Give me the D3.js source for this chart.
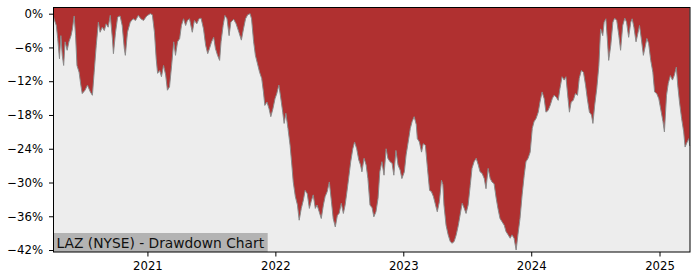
<!DOCTYPE html>
<html>
<head>
<meta charset="utf-8">
<script src="https://cdn.jsdelivr.net/npm/d3@7"></script>
<style>
  body { margin: 0; background: #fff; }
  svg { display: block; }
  .tick text { font-family: "DejaVu Sans", sans-serif; font-size: 11.7px; fill: #000; }
</style>
</head>
<body>
<svg id="chart" width="700" height="280"></svg>
<script>
// drawdown data
var dates = [
  "2020-04-08","2020-04-11","2020-04-16","2020-04-20","2020-04-25","2020-04-29","2020-05-03","2020-05-07",
  "2020-05-11","2020-05-17","2020-05-22","2020-05-28","2020-06-01","2020-06-06","2020-06-10","2020-06-14",
  "2020-06-20","2020-06-25","2020-06-29","2020-07-07","2020-07-14","2020-07-22","2020-07-28","2020-08-02",
  "2020-08-08","2020-08-14","2020-08-19","2020-08-25","2020-08-31","2020-09-05","2020-09-11","2020-09-17",
  "2020-09-23","2020-09-26","2020-10-02","2020-10-08","2020-10-15","2020-10-21","2020-10-27","2020-10-30",
  "2020-11-05","2020-11-13","2020-11-21","2020-11-28","2020-12-06","2020-12-13","2020-12-21","2020-12-30",
  "2021-01-09","2021-01-15","2021-01-21","2021-01-26","2021-01-30","2021-02-05","2021-02-10","2021-02-16",
  "2021-02-22","2021-02-27","2021-03-05","2021-03-11","2021-03-17","2021-03-22","2021-03-28","2021-04-03",
  "2021-04-08","2021-04-14","2021-04-20","2021-04-25","2021-05-01","2021-05-09","2021-05-15","2021-05-22",
  "2021-05-28","2021-06-03","2021-06-10","2021-06-16","2021-06-22","2021-06-27","2021-07-03","2021-07-09",
  "2021-07-14","2021-07-20","2021-07-26","2021-07-30","2021-08-05","2021-08-10","2021-08-16","2021-08-22",
  "2021-08-27","2021-09-04","2021-09-11","2021-09-19","2021-09-26","2021-10-02","2021-10-08","2021-10-14",
  "2021-10-21","2021-10-25","2021-10-31","2021-11-05","2021-11-11","2021-11-17","2021-11-23","2021-11-28",
  "2021-12-02","2021-12-08","2021-12-14","2021-12-19","2021-12-25","2021-12-31",
  "2022-01-05","2022-01-11","2022-01-16","2022-01-22","2022-01-26","2022-01-31","2022-02-06","2022-02-12",
  "2022-02-17","2022-02-21","2022-02-27","2022-03-05","2022-03-10","2022-03-16","2022-03-22","2022-03-27",
  "2022-04-02","2022-04-08","2022-04-13","2022-04-19","2022-04-25","2022-04-30","2022-05-06","2022-05-12",
  "2022-05-18","2022-05-23","2022-05-29","2022-06-04","2022-06-10","2022-06-15","2022-06-21","2022-06-27",
  "2022-07-02","2022-07-08","2022-07-14","2022-07-19","2022-07-23","2022-07-29","2022-08-04","2022-08-10",
  "2022-08-15","2022-08-21","2022-08-27","2022-09-01","2022-09-05","2022-09-11","2022-09-17","2022-09-22",
  "2022-09-28","2022-10-04","2022-10-09","2022-10-15","2022-10-21","2022-10-26","2022-11-01","2022-11-07",
  "2022-11-13","2022-11-18","2022-11-24","2022-11-30","2022-12-05","2022-12-11","2022-12-17","2022-12-23",
  "2022-12-28",
  "2023-01-04","2023-01-09","2023-01-15","2023-01-21","2023-01-26","2023-02-01","2023-02-07","2023-02-10",
  "2023-02-16","2023-02-22","2023-02-27","2023-03-05","2023-03-11","2023-03-17","2023-03-22","2023-03-28",
  "2023-04-03","2023-04-08","2023-04-14","2023-04-20","2023-04-24","2023-04-27","2023-05-03","2023-05-09",
  "2023-05-15","2023-05-20","2023-05-26","2023-06-01","2023-06-07","2023-06-12","2023-06-18","2023-06-24",
  "2023-06-29","2023-07-05","2023-07-11","2023-07-16","2023-07-22","2023-07-28","2023-08-03","2023-08-08",
  "2023-08-14","2023-08-20","2023-08-25","2023-08-31","2023-09-06","2023-09-11","2023-09-17","2023-09-23",
  "2023-09-28","2023-10-04","2023-10-10","2023-10-16","2023-10-21","2023-10-27","2023-11-02","2023-11-07",
  "2023-11-13","2023-11-19","2023-11-24","2023-11-30","2023-12-06","2023-12-12","2023-12-17","2023-12-23",
  "2023-12-29",
  "2024-01-04","2024-01-09","2024-01-15","2024-01-21","2024-01-26","2024-02-01","2024-02-07","2024-02-12",
  "2024-02-18","2024-02-24","2024-03-01","2024-03-06","2024-03-12","2024-03-18","2024-03-23","2024-03-29",
  "2024-04-04","2024-04-09","2024-04-15","2024-04-19","2024-04-24","2024-04-30","2024-05-06","2024-05-12",
  "2024-05-17","2024-05-23","2024-05-29","2024-06-04","2024-06-09","2024-06-15","2024-06-21","2024-06-25",
  "2024-06-30","2024-07-06","2024-07-12","2024-07-17","2024-07-23","2024-07-27","2024-08-01","2024-08-05",
  "2024-08-09","2024-08-15","2024-08-21","2024-08-26","2024-09-01","2024-09-07","2024-09-12","2024-09-18",
  "2024-09-24","2024-09-29","2024-10-05","2024-10-11","2024-10-15","2024-10-20","2024-10-26","2024-11-01",
  "2024-11-05","2024-11-10","2024-11-16","2024-11-22","2024-11-26","2024-12-01","2024-12-07","2024-12-13",
  "2024-12-18","2024-12-24","2024-12-30",
  "2025-01-06","2025-01-11","2025-01-15","2025-01-21","2025-01-26","2025-02-01","2025-02-07","2025-02-12",
  "2025-02-18","2025-02-22","2025-02-27","2025-03-05","2025-03-11","2025-03-15","2025-03-21","2025-03-26",
  "2025-03-28"
];
var drawdown = [
  -0.5,-1.2,-2.1,-4.4,-8.0,-3.9,-7.4,-9.2,
  -5.0,-6.5,-5.0,-3.9,-2.7,-0.4,-3.9,-9.2,
  -10.4,-12.7,-14.2,-13.6,-12.7,-13.9,-14.5,-10.4,
  -5.6,-1.5,-3.3,-2.4,-3.0,-1.8,-2.4,-0.3,
  -4.4,-7.1,-3.3,-0.6,-0.4,-2.1,-6.2,-7.4,
  -3.3,-1.5,-0.9,-1.2,-0.3,-0.9,-1.2,-0.4,
  0,-0.2,-3.3,-8.0,-10.6,-10.1,-11.2,-9.2,
  -10.9,-13.6,-13.0,-9.2,-5.0,-7.4,-5.0,-4.4,
  -2.1,-0.9,-2.1,-1.2,-0.9,-3.3,-1.2,-1.8,
  -0.9,-0.8,-2.7,-5.6,-7.1,-6.2,-5.0,-4.2,
  -6.2,-7.4,-8.3,-5.0,-2.1,-0.3,-0.9,-3.9,
  -1.5,-1.0,-1.8,-3.3,-4.7,-2.7,-0.9,-0.2,
  0,-0.9,-5.0,-7.4,-8.9,-10.4,-11.5,-13.9,
  -16.3,-15.7,-16.9,-18.3,-16.9,-15.1,
  -14.2,-12.7,-14.8,-17.5,-19.5,-17.7,-20.4,-23.4,
  -26.9,-29.9,-32.5,-34.0,-36.7,-34.6,-33.1,-31.4,
  -32.0,-34.6,-33.4,-32.2,-34.6,-34.0,-35.2,-36.4,
  -34.0,-32.5,-31.6,-29.9,-33.4,-36.4,-37.9,-35.8,
  -35.5,-33.7,-35.5,-34.0,-32.2,-29.3,-26.3,-24.0,
  -22.8,-24.0,-26.0,-26.9,-28.1,-25.7,-26.9,-29.3,
  -34.0,-34.5,-36.1,-35.2,-32.8,-28.1,-26.3,-28.7,
  -24.0,-25.7,-26.3,-26.6,-28.7,-24.3,-26.9,-27.8,
  -29.3,
  -28.1,-25.1,-22.8,-20.4,-19.2,-18.3,-19.7,-22.2,
  -22.8,-24.6,-23.1,-23.4,-27.5,-31.4,-31.6,-32.5,
  -34.0,-35.2,-33.4,-29.6,-30.4,-34.0,-37.6,-39.3,
  -40.5,-40.8,-40.5,-39.3,-37.6,-35.8,-33.7,-34.6,
  -35.5,-34.0,-30.5,-27.5,-26.3,-25.7,-26.9,-28.1,
  -28.4,-29.3,-31.1,-27.5,-29.3,-29.9,-30.2,-32.8,
  -34.6,-36.4,-37.0,-37.6,-38.7,-39.3,-39.9,-39.3,
  -39.9,-42.0,-39.3,-36.4,-32.2,-28.7,-26.3,-25.7,
  -24.6,
  -20.4,-19.2,-18.6,-17.5,-15.7,-13.9,-15.1,-17.5,
  -17.2,-16.3,-15.1,-14.5,-14.8,-15.4,-13.3,-11.2,
  -11.8,-11.2,-15.1,-17.5,-15.7,-15.4,-14.2,-14.5,
  -11.5,-10.1,-10.4,-12.7,-15.1,-17.5,-18.0,-19.5,
  -16.3,-13.3,-9.2,-2.7,-3.9,-1.5,-0.9,-4.4,
  -8.3,-5.6,-1.5,-0.8,-1.2,-3.9,-6.5,-2.1,
  -0.8,-1.5,-4.2,-1.5,-0.9,-2.4,-5.0,-3.3,
  -2.1,-4.4,-7.4,-5.6,-4.4,-5.3,-8.3,-10.4,
  -13.9,-14.2,-15.1,
  -17.5,-19.2,-21.0,-14.5,-12.4,-11.0,-11.8,-11.0,
  -9.5,-12.7,-15.7,-18.6,-21.0,-23.7,-22.8,-22.2,
  -23.5
];
var yTicks = [0, -6, -12, -18, -24, -30, -36, -42];
var xTickYears = [2021, 2022, 2023, 2024, 2025];
var title = "LAZ (NYSE) - Drawdown Chart";

var parseDate = d3.timeParse("%Y-%m-%d");
var data = dates.map(function(d, i) {
	return { date: parseDate(d), dd: drawdown[i] };
});

var svg = d3.select("#chart");
var margin = { left: 53.5, right: 10, top: 7.5, bottom: 28 };
var width = 700, height = 280;

var xScale = d3.scaleTime()
	.domain([parseDate("2020-04-08"), parseDate("2025-03-29")])
	.range([margin.left, width - margin.right]);
var yScale = d3.scaleLinear()
	.domain([-42.35, 1.1])
	.range([height - margin.bottom, margin.top]);

// plot background
svg.append("rect")
	.attr("x", margin.left)
	.attr("y", margin.top)
	.attr("width", width - margin.right - margin.left)
	.attr("height", height - margin.bottom - margin.top)
	.style("fill", "#EDEDED");

// red drawdown area, from the top of the plot down to the curve
var area = d3.area()
	.x(function(d) { return xScale(d.date); })
	.y0(yScale.range()[1])
	.y1(function(d) { return yScale(d.dd); });

svg.append("path")
	.datum(data)
	.attr("d", area)
	.style("fill", "#B03030");

var line = d3.line()
	.x(function(d) { return xScale(d.date); })
	.y(function(d) { return yScale(d.dd); });

svg.append("path")
	.datum(data)
	.attr("d", line)
	.style("fill", "none")
	.style("stroke", "#8a8a8a")
	.style("stroke-width", 1);

// label box bottom-left
var label = svg.append("g");
var labelBg = label.append("rect")
	.style("fill", "#B3B3B3");
var labelText = label.append("text")
	.attr("x", margin.left + 3)
	.attr("y", height - margin.bottom - 4)
	.style("font-family", "DejaVu Sans, sans-serif")
	.style("font-size", "13.8px")
	.style("fill", "#111")
	.text(title);
var bb = labelText.node().getBBox();
labelBg.attr("x", margin.left)
	.attr("y", bb.y - 2)
	.attr("width", bb.width + 6)
	.attr("height", height - margin.bottom - bb.y + 2);

// axes
var xAxis = d3.axisBottom(xScale)
	.tickValues(xTickYears.map(function(y) { return new Date(y, 0, 1); }))
	.tickFormat(d3.timeFormat("%Y"))
	.tickSize(4.5)
	.tickPadding(5);
svg.append("g")
	.attr("transform", "translate(0," + (height - margin.bottom) + ")")
	.call(xAxis)
	.call(function(g) { g.select(".domain").remove(); });

var yAxis = d3.axisLeft(yScale)
	.tickValues(yTicks)
	.tickFormat(function(d) { return (d < 0 ? "\u2212" + (-d) : d) + "%"; })
	.tickSize(4.5)
	.tickPadding(6);
svg.append("g")
	.attr("transform", "translate(" + margin.left + ",0)")
	.call(yAxis)
	.call(function(g) { g.select(".domain").remove(); });

// frame
svg.append("rect")
	.attr("x", margin.left)
	.attr("y", margin.top)
	.attr("width", width - margin.right - margin.left)
	.attr("height", height - margin.bottom - margin.top)
	.style("fill", "none")
	.style("stroke", "#000")
	.style("stroke-width", 1);
</script>
</body>
</html>
